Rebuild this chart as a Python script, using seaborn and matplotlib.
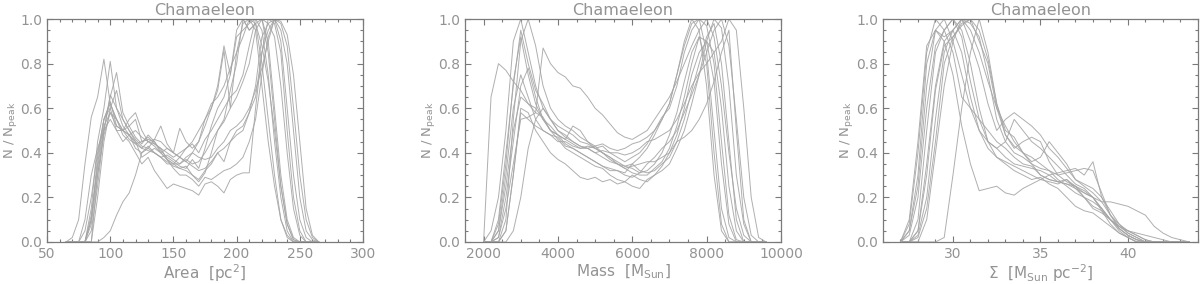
import numpy as np
import pandas as pd
import matplotlib
matplotlib.use("Agg")
import matplotlib.pyplot as plt
from matplotlib.ticker import MultipleLocator, FormatStrFormatter
import seaborn as sns

# --------------------------
# Data
# --------------------------
title = "Chamaeleon"

area_bins = np.arange(65, 270, 5)
area_curves = [
    [0, .02, .10, .35, .56, .65, .82, .62, .55, .50,
     .52, .55, .45, .47, .44, .42, .40, .38, .40, .42,
     .45, .50, .55, .60, .70, .88, .75, .95, 1.0, .95,
     .98, .80, .55, .30, .10, .02, 0, 0, 0, 0, 0],
    [0, 0, 0, 0, .15, .45, .60, .81, .60, .55,
     .50, .45, .42, .45, .43, .40, .37, .35, .38, .36,
     .40, .45, .52, .60, .68, .86, .60, .85, .98, 1.0,
     .95, .70, .45, .25, .10, .03, 0, 0, 0, 0, 0],
    [0, 0, 0, 0, 0, .30, .50, .65, .76, .58,
     .52, .47, .44, .48, .45, .41, .38, .36, .34, .33,
     .37, .33, .42, .52, .60, .65, .75, .92, .95, .98,
     1.0, .95, .75, .45, .20, .05, 0, 0, 0, 0, 0],
    [0, 0, 0, 0, 0, 0, .02, .05, .12, .18,
     .22, .30, .40, .42, .46, .45, .42, .40, .38, .36,
     .34, .32, .33, .36, .40, .42, .45, .50, .52, .58,
     .70, .92, .98, 1.0, .95, .80, .50, .20, .05, .01, 0],
    [0, 0, 0, 0, .10, .35, .55, .62, .55, .48,
     .45, .40, .35, .38, .32, .28, .24, .26, .25, .24,
     .23, .21, .26, .27, .25, .22, .28, .30, .31, .31,
     .60, .85, .95, 1.0, .90, .60, .30, .10, .02, 0, 0],
    [0, 0, 0, 0, .05, .25, .50, .66, .60, .52,
     .48, .50, .47, .45, .44, .42, .37, .33, .30, .30,
     .28, .25, .29, .28, .30, .32, .33, .35, .38, .45,
     .55, .75, .92, 1.0, .98, .88, .60, .30, .10, .02, 0],
    [0, 0, 0, .05, .20, .40, .55, .63, .52, .50,
     .55, .58, .50, .45, .46, .52, .44, .40, .51, .45,
     .42, .45, .55, .62, .65, .70, .78, .85, .92, 1.0,
     .98, 1.0, .85, .55, .25, .08, .01, 0, 0, 0, 0],
    [0, 0, 0, 0, .08, .30, .48, .58, .52, .50,
     .48, .42, .40, .43, .40, .38, .36, .34, .33, .32,
     .30, .28, .32, .35, .40, .36, .45, .48, .50, .58,
     .65, .85, 1.0, .98, .85, .50, .20, .05, 0, 0, 0],
    [0, 0, 0, 0, .10, .38, .55, .60, .50, .45,
     .48, .44, .45, .46, .45, .40, .42, .40, .38, .42,
     .44, .40, .46, .50, .55, .60, .65, .68, .75, .88,
     1.0, 1.0, .90, .60, .30, .10, .02, 0, 0, 0, 0],
    [0, 0, 0, .10, .30, .42, .50, .55, .50, .50,
     .48, .45, .38, .40, .42, .40, .37, .35, .35, .37,
     .35, .36, .40, .45, .50, .54, .60, .65, .72, .80,
     .95, 1.0, .98, .92, .70, .40, .15, .03, 0, 0, 0],
    [0, 0, 0, 0, 0, .20, .45, .60, .68, .55,
     .50, .46, .43, .42, .40, .38, .35, .35, .33, .34,
     .30, .27, .31, .40, .50, .55, .68, .80, 1.0, .95,
     .98, .88, .72, .50, .25, .08, .01, 0, 0, 0, 0],
    [0, 0, 0, 0, .12, .33, .52, .58, .55, .50,
     .46, .44, .42, .41, .40, .38, .39, .37, .35, .38,
     .40, .38, .37, .38, .42, .45, .50, .52, .55, .60,
     .68, .78, .90, 1.0, .99, .93, .75, .45, .15, .03, 0],
]

mass_bins = np.arange(2000, 9800, 200)
mass_curves = [
    [0, .65, .80, .77, .72, .68, .62, .60, .55, .50,
     .48, .46, .44, .42, .43, .42, .40, .38, .36, .34,
     .33, .31, .32, .35, .40, .48, .58, .72, .85, .92,
     .80, .40, .08, 0, 0, 0, 0, 0, 0],
    [0, .05, .20, .50, .90, 1.0, .85, .70, .60, .55,
     .50, .47, .45, .43, .42, .43, .44, .42, .41, .42,
     .44, .45, .47, .50, .55, .62, .75, .90, 1.0, .95,
     .70, .30, .05, 0, 0, 0, 0, 0, 0],
    [0, 0, .02, .15, .35, .55, .56, .58, .87, .80,
     .76, .74, .70, .69, .65, .60, .57, .53, .49, .47,
     .46, .48, .50, .55, .60, .65, .72, .80, .88, .95,
     1.0, .92, .70, .40, .15, .03, 0, 0, 0],
    [0, 0, 0, .05, .30, .60, .58, .50, .45, .40,
     .37, .35, .32, .29, .28, .29, .27, .28, .26, .27,
     .25, .24, .28, .30, .32, .35, .42, .50, .62, .75,
     .90, 1.0, .96, .70, .30, .08, 0, 0, 0],
    [0, 0, 0, 0, .05, .20, .42, .55, .60, .55,
     .50, .48, .45, .43, .42, .40, .38, .36, .35, .33,
     .34, .35, .36, .36, .38, .40, .45, .47, .50, .55,
     .62, .72, .85, .95, .50, .10, 0, 0, 0],
    [0, 0, .05, .30, .60, .75, .65, .55, .50, .48,
     .45, .45, .43, .42, .42, .40, .41, .40, .40, .39,
     .40, .42, .45, .46, .48, .50, .55, .62, .70, .76,
     .80, .85, .90, 1.0, .95, .60, .20, .02, 0],
    [0, 0, .10, .40, .70, .95, .80, .68, .62, .55,
     .52, .50, .48, .45, .44, .42, .40, .37, .35, .33,
     .31, .30, .30, .33, .36, .42, .52, .65, .80, .92,
     .90, .72, .35, .08, 0, 0, 0, 0, 0],
    [0, 0, 0, .10, .55, .90, 1.0, .88, .70, .60,
     .55, .52, .50, .47, .45, .43, .40, .38, .35, .34,
     .35, .38, .42, .48, .55, .62, .75, .88, .98, 1.0,
     .85, .50, .15, .02, 0, 0, 0, 0, 0],
    [0, 0, .05, .25, .50, .65, .62, .58, .56, .50,
     .48, .44, .42, .40, .38, .36, .34, .33, .32, .31,
     .35, .32, .31, .32, .35, .38, .45, .55, .68, .80,
     .92, .98, .80, .45, .10, 0, 0, 0, 0],
    [0, 0, .02, .20, .45, .70, .78, .65, .55, .52,
     .48, .46, .52, .50, .45, .42, .43, .40, .38, .36,
     .38, .40, .44, .50, .56, .60, .70, .85, .95, 1.0,
     .97, .80, .45, .12, .01, 0, 0, 0, 0],
    [0, 0, 0, .05, .30, .58, .55, .52, .50, .48,
     .47, .43, .42, .40, .38, .36, .34, .32, .32, .30,
     .29, .31, .35, .38, .42, .45, .50, .58, .66, .75,
     .85, .95, 1.0, .88, .55, .20, .03, 0, 0],
    [0, 0, .08, .35, .72, .92, .75, .62, .55, .50,
     .46, .42, .40, .38, .36, .34, .33, .30, .28, .27,
     .30, .28, .27, .30, .34, .40, .48, .60, .75, .85,
     .90, .85, .60, .25, .05, 0, 0, 0, 0],
]

sigma_bins = np.arange(27.0, 44.0, 0.5)
sigma_curves = [
    [0, .05, .30, .80, .95, .90, .75, .52, .35, .23,
     .24, .25, .22, .21, .24, .26, .28, .30, .31, .32,
     .33, .30, .36, .20, .12, .08, .05, .03, .01, 0,
     0, 0, 0, 0],
    [0, 0, 0, 0, 0, .02, .30, .60, .85, 1.0,
     .85, .62, .48, .43, .40, .38, .35, .32, .28, .25,
     .22, .20, .18, .15, .10, .06, .03, .01, 0, 0,
     0, 0, 0, 0],
    [0, .08, .40, .85, 1.0, .95, .85, .65, .60, .55,
     .50, .45, .42, .38, .35, .34, .30, .28, .27, .26,
     .24, .22, .20, .18, .18, .17, .16, .14, .12, .07,
     .04, .02, .01, 0],
    [0, .05, .25, .70, .95, 1.0, .90, .75, .60, .50,
     .45, .42, .38, .35, .34, .33, .32, .30, .27, .26,
     .25, .22, .20, .15, .10, .07, .05, .04, .03, .02,
     .01, 0, 0, 0],
    [0, 0, .10, .50, .85, .95, 1.0, .95, .80, .60,
     .45, .42, .45, .55, .50, .45, .42, .38, .34, .30,
     .26, .24, .20, .14, .08, .04, .02, 0, 0, 0,
     0, 0, 0, 0],
    [0, 0, .05, .35, .70, .90, .95, 1.0, .90, .78,
     .62, .50, .55, .58, .55, .52, .48, .42, .38, .33,
     .28, .25, .22, .18, .12, .07, .04, .02, 0, 0,
     0, 0, 0, 0],
    [0, .03, .20, .60, .88, .95, 1.0, .92, .72, .55,
     .45, .38, .36, .34, .32, .30, .28, .27, .26, .28,
     .25, .20, .15, .13, .10, .06, .03, .01, 0, 0,
     0, 0, 0, 0],
    [0, 0, .03, .20, .55, .85, .95, 1.0, .98, .92,
     .75, .55, .45, .40, .38, .35, .33, .32, .30, .31,
     .32, .33, .32, .22, .12, .06, .03, .01, 0, 0,
     0, 0, 0, 0],
    [0, 0, .02, .15, .45, .80, .92, .98, 1.0, .90,
     .80, .60, .48, .42, .45, .47, .45, .36, .30, .27,
     .25, .23, .20, .15, .10, .05, .02, 0, 0, 0,
     0, 0, 0, 0],
    [0, .10, .45, .88, .95, .92, .95, .85, .65, .50,
     .42, .38, .35, .32, .30, .28, .29, .26, .24, .20,
     .16, .14, .13, .10, .07, .04, .02, 0, 0, 0,
     0, 0, 0, 0],
    [0, 0, .05, .30, .68, .88, .92, .97, 1.0, .95,
     .82, .62, .50, .47, .40, .36, .38, .45, .40, .35,
     .28, .26, .24, .20, .14, .08, .04, .02, 0, 0,
     0, 0, 0, 0],
    [0, 0, 0, .10, .40, .70, .90, 1.0, .95, .85,
     .72, .60, .52, .45, .40, .35, .30, .28, .27, .28,
     .24, .20, .16, .14, .10, .07, .05, .03, .01, 0,
     0, 0, 0, 0],
]

xlabels = [
    r"Area  [pc$^{\mathregular{2}}$]",
    r"Mass  [M$_{\mathregular{Sun}}$]",
    r"$\Sigma$  [M$_{\mathregular{Sun}}$ pc$^{\mathregular{-2}}$]",
]
ylabel = r"N / N$_{\mathregular{peak}}$"


def to_frame(bins, curves):
    parts = []
    for i, c in enumerate(curves):
        parts.append(pd.DataFrame({"x": bins, "y": c, "run": i}))
    return pd.concat(parts, ignore_index=True)


# --------------------------
# Plot
# --------------------------
sns.set_style("ticks")
plt.rcParams["font.family"] = ["DejaVu Sans"]

text_col = "#939393"
edge_col = "#7a7a7a"
line_col = "#a6a6a6"

fig = plt.figure(figsize=(12, 2.84), dpi=100)

panels = [
    (area_bins, area_curves, (50, 300), 50, 10, [0.0392, 0.148, 0.2633, 0.785]),
    (mass_bins, mass_curves, (1500, 10000), 2000, 500, [0.3875, 0.148, 0.2633, 0.785]),
    (sigma_bins, sigma_curves, (26, 44), 5, 1, [0.7358, 0.148, 0.2625, 0.785]),
]

for (bins, curves, xlim, major, minor, pos), xlabel in zip(panels, xlabels):
    ax = fig.add_axes(pos)
    df = to_frame(bins, curves)
    sns.lineplot(
        data=df, x="x", y="y", units="run", estimator=None,
        color=line_col, linewidth=0.7, alpha=0.9, legend=False, ax=ax
    )
    ax.set_xlim(*xlim)
    ax.set_ylim(0, 1)
    ax.xaxis.set_major_locator(MultipleLocator(major))
    ax.xaxis.set_minor_locator(MultipleLocator(minor))
    ax.yaxis.set_major_locator(MultipleLocator(0.2))
    ax.yaxis.set_minor_locator(MultipleLocator(0.05))
    ax.yaxis.set_major_formatter(FormatStrFormatter("%.1f"))
    ax.tick_params(which="both", direction="in", top=True, right=True,
                   color=edge_col, labelcolor=text_col, labelsize=10)
    ax.tick_params(which="major", length=4, width=0.8)
    ax.tick_params(which="minor", length=2.2, width=0.8)
    for s in ax.spines.values():
        s.set_color(edge_col)
        s.set_linewidth(0.9)
    ax.set_title(title, color=text_col, fontsize=11.5, pad=3)
    ax.set_xlabel(xlabel, color=text_col, fontsize=11, labelpad=1)
    ax.set_ylabel(ylabel, color=text_col, fontsize=9.5, labelpad=1)

fig.savefig("out.png", dpi=100)
